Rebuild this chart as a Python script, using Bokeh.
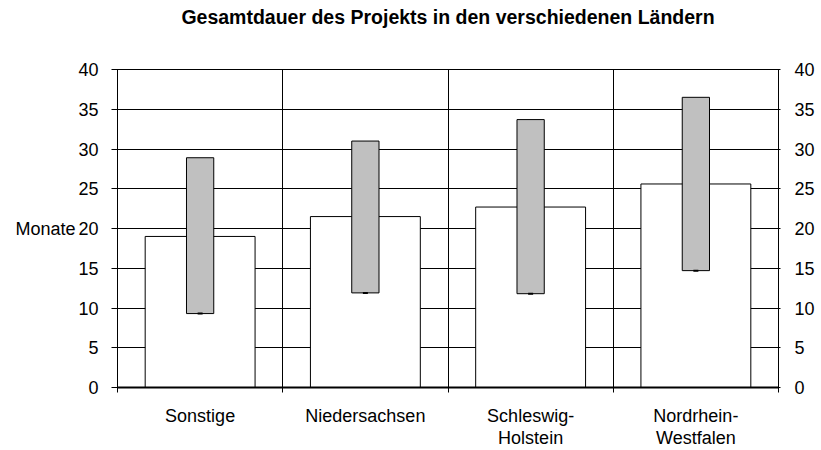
import numpy as np
from bokeh.plotting import figure
from bokeh.models import LinearAxis, FixedTicker, Range1d, Grid, Title
from bokeh.embed import file_html
from bokeh.resources import INLINE

title_text = "Gesamtdauer des Projekts in den verschiedenen Ländern"
categories = ["Sonstige", "Niedersachsen", "Schleswig-\nHolstein", "Nordrhein-\nWestfalen"]
mean_months = [19.0, 21.5, 22.7, 25.6]
range_low = [9.3, 11.9, 11.8, 14.7]
range_high = [28.9, 31.0, 33.7, 36.5]
y_ticks = [0, 5, 10, 15, 20, 25, 30, 35, 40]

x = np.arange(len(categories)) + 0.5
bounds = list(range(len(categories) + 1))

FONT = "Liberation Sans"
W, H = 817, 450
LEFT, RIGHT, TOP, BOTTOM = 117, 35, 69, 61

p = figure(width=W, height=H, output_backend="svg", toolbar_location=None, title=None,
           x_range=Range1d(0, len(categories)), y_range=Range1d(0, 40),
           x_axis_type=None, y_axis_type=None,
           min_border_left=LEFT, min_border_right=RIGHT, min_border_top=TOP, min_border_bottom=BOTTOM)

p.outline_line_color = "black"
p.outline_line_width = 1

# title: a blank spacer next to the frame, the real title above it
p.add_layout(Title(text=" ", text_font=FONT, text_font_size="19.5px", standoff=18), "above")
p.add_layout(Title(text=title_text, align="center", text_font=FONT, text_font_size="19.5px",
                   text_font_style="bold", text_color="black", standoff=0), "above")

# grids
p.add_layout(Grid(dimension=0, ticker=FixedTicker(ticks=bounds[1:-1]), grid_line_color="black"))
p.add_layout(Grid(dimension=1, ticker=FixedTicker(ticks=y_ticks), grid_line_color="black"))

# bars
p.vbar(x=x, top=mean_months, bottom=0, width=0.665, fill_color="white", line_color="black", line_width=1)
p.vbar(x=x, top=range_high, bottom=range_low, width=0.165, fill_color="#c0c0c0", line_color="black", line_width=1)
p.scatter(x=x, y=range_low, marker="dash", size=5, line_color="black", line_width=2)

# x axis
xax = LinearAxis(ticker=FixedTicker(ticks=list(x), minor_ticks=bounds))
xax.major_label_overrides = {float(v): c for v, c in zip(x, categories)}
xax.major_tick_in = 0
xax.major_tick_out = 0
xax.minor_tick_in = 3
xax.minor_tick_out = 5
xax.minor_tick_line_color = "black"
xax.axis_line_color = "black"
xax.axis_line_width = 2
xax.major_label_standoff = 13
xax.major_label_text_font = FONT
xax.major_label_text_font_size = "18px"
xax.major_label_text_color = "black"
xax.major_label_text_line_height = 1.1
p.add_layout(xax, "below")

# left y axis
yl = LinearAxis(ticker=FixedTicker(ticks=y_ticks, minor_ticks=[]))
yl.axis_label = "Monate"
yl.axis_label_orientation = "horizontal"
yl.axis_label_text_font = FONT
yl.axis_label_text_font_size = "18px"
yl.axis_label_text_font_style = "normal"
yl.axis_label_text_color = "black"
yl.axis_label_standoff = 0
yl.major_tick_out = 6
yl.major_tick_in = 1
yl.major_tick_line_color = "black"
yl.axis_line_color = "black"
yl.major_label_standoff = 13
yl.major_label_text_font = FONT
yl.major_label_text_font_size = "18px"
yl.major_label_text_color = "black"
p.add_layout(yl, "left")

# right y axis
yr = LinearAxis(ticker=FixedTicker(ticks=y_ticks, minor_ticks=[]))
yr.major_tick_out = 2
yr.major_tick_in = 3
yr.major_tick_line_color = "black"
yr.axis_line_color = "black"
yr.major_label_standoff = 14
yr.major_label_text_font = FONT
yr.major_label_text_font_size = "18px"
yr.major_label_text_color = "black"
p.add_layout(yr, "right")

open("out.html", "w").write(file_html(p, INLINE))
